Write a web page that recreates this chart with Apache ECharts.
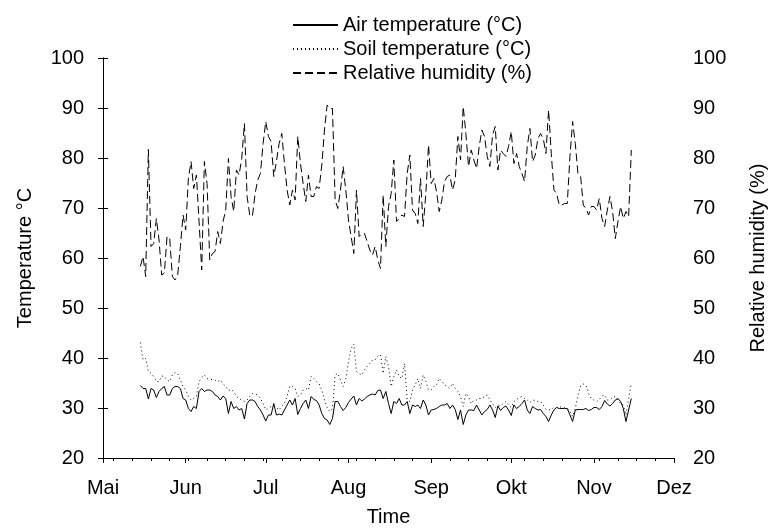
<!DOCTYPE html>
<html>
<head>
<meta charset="utf-8">
<script src="https://cdn.jsdelivr.net/npm/echarts@6/dist/echarts.min.js"></script>
<style>
  html, body { margin: 0; padding: 0; background: #fff; }
  #chart { width: 770px; height: 528px; }
</style>
</head>
<body>
<div id="chart"></div>
<script>
// month tick labels, positions in days from 1 May
var months = ['Mai', 'Jun', 'Jul', 'Aug', 'Sep', 'Okt', 'Nov', 'Dez'];
var monthStart = [0, 31, 61, 92, 123, 153, 184, 214];
// first measured day (15 May)
var startDay = 14;

// daily values
var airTemp = [
  34.5, 33.9, 33.9, 31.8, 33.9, 33.6, 32.1, 33.3, 33.9, 34.3,
  32.6, 32.6, 33.9, 34.3, 34.3, 33.9, 31.9, 31.6, 29.9, 29.3,
  30.3, 29.9, 33.3, 33.9, 33.3, 33.6, 33.6, 33.3, 32.6, 32.3,
  31.6, 32.4, 31.9, 28.9, 31.3, 29.9, 30.3, 29.6, 29.9, 27.8,
  30.9, 31.6, 31.6, 31.3, 30.3, 29.6, 28.6, 27.4, 28.6, 28.6,
  30.9, 28.6, 28.8, 28.6, 29.6, 30.6, 31.6, 30.6, 31.9, 28.7,
  29.9, 30.9, 31.6, 29.9, 32.3, 31.7, 31.5, 30.6, 28.9, 27.9,
  27.6, 26.7, 27.9, 31.3, 31.3, 30.3, 29.5, 30.1, 31.1, 31.8,
  32.4, 30.6, 31.9, 31.4, 31.8, 32.3, 32.6, 32.8, 32.6, 33.5,
  33.6, 31.9, 33.3, 30.9, 28.9, 31.3, 30.9, 31.9, 30.6, 30.6,
  31.3, 28.9, 30.6, 30.3, 30.6, 29.9, 31.6, 30.6, 28.6, 29.6,
  29.7, 29.9, 30.3, 30.6, 30.6, 30.9, 29.9, 30.6, 29.7, 27.7,
  29.6, 26.7, 28.6, 29.6, 29.6, 29.5, 30.6, 29.6, 28.6, 29.3,
  29.7, 30.6, 29.6, 28.1, 30.4, 29.5, 30.1, 30.4, 29.6, 28.5,
  30.6, 29.9, 30.3, 30.9, 31.6, 29.6, 28.9, 30.3, 29.9, 29.6,
  29.7, 28.9, 28.3, 27.3, 28.6, 29.6, 30.1, 29.9, 29.9, 29.9,
  29.9, 28.6, 27.3, 29.6, 29.7, 29.7, 29.7, 29.9, 29.5, 29.7,
  30.1, 30.1, 29.7, 30.3, 31.5, 30.8, 30.4, 30.9, 31.6, 31.9,
  31.3, 29.9, 27.3, 29.6, 31.9
];
var soilTemp = [
  43.1, 39.6, 39.9, 37.3, 36.9, 36.3, 35.3, 35.3, 36.4, 36.3,
  35.6, 35.3, 36.6, 37.1, 36.9, 35.6, 34.3, 33.6, 32.3, 31.6,
  31.9, 32.3, 35.3, 36.1, 36.6, 35.9, 35.7, 35.7, 35.6, 35.3,
  35.6, 34.8, 34.3, 33.5, 33.7, 33.3, 32.3, 31.9, 31.6, 31.3,
  31.6, 32.3, 32.9, 32.8, 32.6, 31.9, 30.9, 29.6, 29.9, 30.3,
  30.4, 30.1, 29.6, 30.4, 30.9, 32.3, 34.4, 34.3, 33.9, 32.3,
  32.6, 33.6, 33.9, 33.6, 36.3, 35.9, 35.3, 34.9, 33.6, 31.6,
  30.1, 29.3, 29.9, 36.6, 36.9, 35.6, 34.3, 35.9, 39.3, 41.9,
  42.8, 37.3, 36.9, 36.6, 37.6, 38.3, 38.9, 39.6, 39.6, 40.4,
  40.7, 36.9, 40.3, 38.3, 34.3, 36.3, 37.6, 36.3, 35.9, 38.9,
  31.6, 31.3, 33.6, 34.6, 35.9, 33.9, 36.6, 35.3, 33.6, 33.6,
  34.3, 34.6, 35.9, 35.3, 34.6, 34.3, 33.9, 34.9, 33.9, 33.3,
  32.3, 30.3, 32.9, 32.3, 30.9, 31.6, 31.6, 31.9, 31.9, 32.3,
  32.6, 31.6, 30.9, 30.1, 30.6, 30.4, 30.9, 31.3, 30.6, 30.1,
  31.3, 31.7, 32.1, 32.3, 31.9, 31.6, 31.1, 31.6, 31.5, 31.3,
  31.3, 30.6, 29.7, 29.6, 29.7, 30.1, 30.1, 30.1, 30.3, 30.1,
  29.9, 29.3, 28.3, 29.9, 32.6, 34.4, 34.8, 34.6, 32.9, 31.9,
  31.6, 31.3, 31.7, 32.4, 32.6, 31.6, 31.6, 32.1, 32.3, 31.6,
  30.9, 30.6, 28.6, 31.9, 35.0
];
var humidity = [
  58.3, 60.3, 56.3, 81.7, 62.3, 62.9, 67.9, 63.6, 56.6, 57.0,
  64.3, 63.9, 56.3, 55.6, 56.6, 62.3, 68.6, 65.6, 75.9, 79.3,
  73.9, 76.6, 67.3, 57.6, 79.3, 74.9, 59.6, 60.9, 61.3, 65.3,
  62.9, 67.3, 69.6, 79.9, 72.3, 69.3, 77.6, 76.6, 79.9, 86.9,
  72.3, 68.6, 68.3, 72.9, 75.6, 76.9, 82.9, 87.3, 84.3, 83.3,
  76.3, 79.3, 82.9, 84.9, 78.9, 73.6, 70.6, 73.6, 71.6, 84.3,
  78.9, 74.9, 71.3, 76.6, 72.3, 72.3, 74.3, 73.9, 78.6, 85.6,
  90.6, 89.9, 89.9, 71.6, 69.9, 73.6, 78.3, 73.6, 67.6, 64.3,
  60.9, 73.6, 64.3, 64.9, 64.9, 63.3, 61.6, 60.6, 62.3, 59.6,
  57.9, 72.6, 62.3, 70.3, 72.9, 79.6, 67.3, 67.9, 68.6, 68.3,
  76.9, 80.6, 69.6, 68.9, 66.9, 75.9, 66.3, 72.9, 82.6, 74.9,
  75.9, 73.3, 69.3, 71.6, 75.3, 76.3, 76.6, 73.6, 75.6, 84.3,
  79.6, 90.3, 84.9, 78.3, 81.6, 79.6, 77.9, 82.3, 85.6, 84.3,
  80.3, 78.3, 84.6, 86.3, 77.6, 81.6, 80.9, 80.3, 82.3, 85.3,
  78.9, 80.9, 78.3, 76.9, 75.3, 82.3, 85.9, 79.3, 80.6, 83.9,
  84.9, 83.9, 80.9, 89.6, 80.9, 73.6, 72.9, 70.6, 70.6, 70.9,
  70.9, 80.3, 87.3, 82.9, 76.9, 76.3, 70.6, 69.9, 68.6, 70.3,
  70.3, 69.6, 71.9, 67.9, 66.3, 69.6, 72.3, 69.3, 63.9, 67.3,
  70.3, 67.9, 69.3, 68.3, 81.6
];

function toPoints(arr) {
  return arr.map(function (v, i) { return [startDay + i, v]; });
}

// weekly minor ticks on the time axis
var weekTicks = [];
for (var w = 4; w < 214; w += 7) weekTicks.push(w);

var font = '"Liberation Sans", Arial, sans-serif';
var black = '#000';

var chart = echarts.init(document.getElementById('chart'));
chart.setOption({
  animation: false,
  textStyle: { fontFamily: font, color: black },
  legend: {
    orient: 'vertical',
    left: 287,
    top: 10,
    itemWidth: 45,
    itemHeight: 12,
    itemGap: 4,
    itemStyle: { opacity: 0, borderWidth: 0 },
    textStyle: { fontFamily: font, fontSize: 20, color: black },
    data: ['Air temperature (°C)', 'Soil temperature (°C)', 'Relative humidity (%)']
  },
  grid: { left: 103, right: 96, top: 58, bottom: 70, outerBoundsMode: 'none' },
  xAxis: [{
    type: 'value',
    min: 0,
    max: 214,
    name: 'Time',
    nameLocation: 'middle',
    nameGap: 49,
    nameTextStyle: { fontFamily: font, fontSize: 20, color: black },
    splitLine: { show: false },
    axisLine: { lineStyle: { color: black, width: 1 } },
    axisTick: { customValues: monthStart, length: 5, lineStyle: { color: black } },
    axisLabel: {
      customValues: monthStart,
      margin: 20,
      fontFamily: font,
      fontSize: 20,
      color: black,
      formatter: function (v) { return months[monthStart.indexOf(v)]; }
    }
  }, {
    type: 'value',
    min: 0,
    max: 214,
    position: 'bottom',
    splitLine: { show: false },
    axisLine: { show: false },
    axisLabel: { show: false },
    axisTick: { customValues: weekTicks, length: 3, lineStyle: { color: black } }
  }],
  yAxis: [{
    type: 'value',
    min: 20,
    max: 100,
    interval: 10,
    name: 'Temperature °C',
    nameLocation: 'middle',
    nameGap: 68,
    nameTextStyle: { fontFamily: font, fontSize: 20, color: black },
    splitLine: { show: false },
    axisLine: { show: true, lineStyle: { color: black, width: 1 } },
    axisTick: { show: true, length: 5, lineStyle: { color: black } },
    axisLabel: { margin: 19, fontFamily: font, fontSize: 20, color: black }
  }, {
    type: 'value',
    min: 20,
    max: 100,
    interval: 10,
    position: 'right',
    name: 'Relative humidity (%)',
    nameLocation: 'middle',
    nameGap: 74,
    nameRotate: 90,
    nameTextStyle: { fontFamily: font, fontSize: 20, color: black },
    splitLine: { show: false },
    axisLine: { show: true, lineStyle: { color: black, width: 1 } },
    axisTick: { show: true, length: 5, lineStyle: { color: black } },
    axisLabel: { margin: 19, fontFamily: font, fontSize: 20, color: black }
  }],
  series: [{
    name: 'Air temperature (°C)',
    type: 'line',
    yAxisIndex: 0,
    symbol: 'none',
    color: black,
    lineStyle: { color: black, width: 1, type: 'solid' },
    data: toPoints(airTemp)
  }, {
    name: 'Soil temperature (°C)',
    type: 'line',
    yAxisIndex: 0,
    symbol: 'none',
    color: black,
    lineStyle: { color: black, width: 1, type: [1, 3] },
    data: toPoints(soilTemp)
  }, {
    name: 'Relative humidity (%)',
    type: 'line',
    yAxisIndex: 1,
    symbol: 'none',
    color: black,
    lineStyle: { color: black, width: 1, type: [8, 4] },
    data: toPoints(humidity)
  }]
});
</script>
</body>
</html>
